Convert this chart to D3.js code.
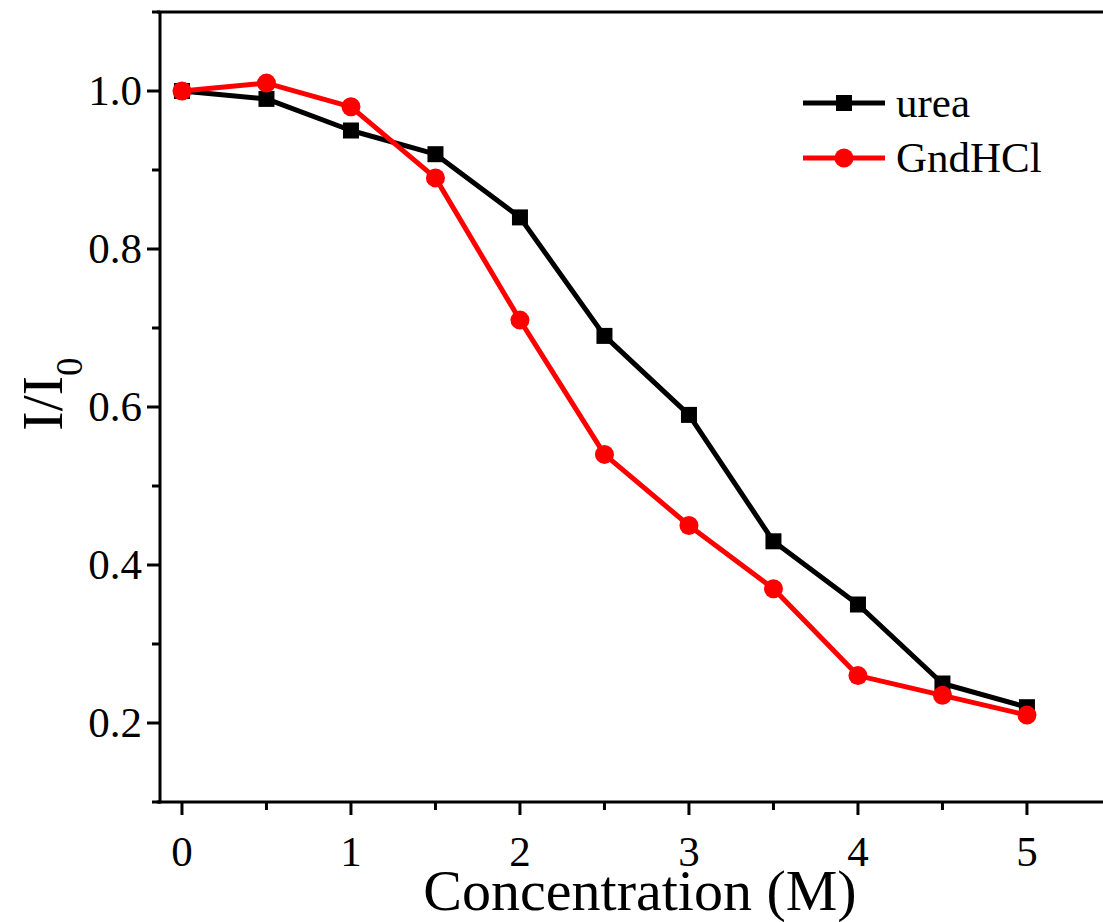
<!DOCTYPE html>
<html><head><meta charset="utf-8">
<script src="https://cdn.jsdelivr.net/npm/d3@7"></script>
<style>body{margin:0;background:#fff}svg{display:block}text{font-family:"Liberation Serif","Times New Roman",serif}</style>
</head><body><svg id="c" width="1103" height="922"></svg>
<script>
const concentrations = [0, 0.5, 1, 1.5, 2, 2.5, 3, 3.5, 4, 4.5, 5];
const ureaValues = [1.0, 0.99, 0.95, 0.92, 0.84, 0.69, 0.59, 0.43, 0.35, 0.25, 0.22];
const gndValues = [1.0, 1.01, 0.98, 0.89, 0.71, 0.54, 0.45, 0.37, 0.26, 0.235, 0.21];
const xTicks = [0, 1, 2, 3, 4, 5];
const yTicks = [0.2, 0.4, 0.6, 0.8, 1.0];
const seriesNames = ["urea", "GndHCl"];
const seriesColors = ["#000000", "#ff0000"];

const svg = d3.select("#c");
const L = 160, R = 1103, T = 12, B = 802;
const x = d3.scaleLinear().domain([-0.13, 5.45]).range([L, R]);
const y = d3.scaleLinear().domain([0.1, 1.1]).range([B, T]);

// top frame line
svg.append("line").attr("x1", L-3).attr("x2", R).attr("y1", T).attr("y2", T).attr("stroke","#000").attr("stroke-width",3);

// x axis
const xMinor = d3.range(0.5, 5.01, 1);
const gx = svg.append("g").attr("transform",`translate(0,${B})`);
gx.append("line").attr("x1", L-3).attr("x2", R).attr("stroke","#000").attr("stroke-width",3);
gx.selectAll(".mj").data(xTicks).join("line").attr("x1",d=>x(d)).attr("x2",d=>x(d)).attr("y1",0).attr("y2",13).attr("stroke","#000").attr("stroke-width",3);
gx.selectAll(".mn").data(xMinor).join("line").attr("x1",d=>x(d)).attr("x2",d=>x(d)).attr("y1",0).attr("y2",8).attr("stroke","#000").attr("stroke-width",3);
gx.selectAll("text").data(xTicks).join("text").attr("x",d=>x(d)).attr("y",64).attr("text-anchor","middle").attr("font-size",43).text(d=>d3.format("d")(d));

// y axis
const yMinor = [0.1,0.3,0.5,0.7,0.9,1.1];
const gy = svg.append("g").attr("transform",`translate(${L},0)`);
gy.append("line").attr("y1", T).attr("y2", B+1.5).attr("stroke","#000").attr("stroke-width",3);
gy.selectAll(".mj").data(yTicks).join("line").attr("y1",d=>y(d)).attr("y2",d=>y(d)).attr("x1",0).attr("x2",-13).attr("stroke","#000").attr("stroke-width",3);
gy.selectAll(".mn").data(yMinor).join("line").attr("y1",d=>y(d)).attr("y2",d=>y(d)).attr("x1",0).attr("x2",-8).attr("stroke","#000").attr("stroke-width",3);
gy.selectAll("text").data(yTicks).join("text").attr("x",-18).attr("y",d=>y(d)+14).attr("text-anchor","end").attr("font-size",43).text(d=>d3.format(".1f")(d));

// titles
svg.append("text").attr("x",640).attr("y",910).attr("text-anchor","middle").attr("font-size",58).text("Concentration (M)");
const yt = svg.append("text").attr("transform",`translate(62,394) rotate(-90)`).attr("text-anchor","middle").attr("font-size",58);
yt.append("tspan").text("I/I");
yt.append("tspan").attr("font-size",37).attr("dy",20).text("0");

// series
const line = d3.line().x(d=>x(d[0])).y(d=>y(d[1]));
const ureaData = concentrations.map((c,i)=>[c, ureaValues[i]]);
const gndData = concentrations.map((c,i)=>[c, gndValues[i]]);

svg.append("path").datum(ureaData).attr("d",line).attr("fill","none").attr("stroke",seriesColors[0]).attr("stroke-width",5).attr("stroke-linejoin","round");
svg.selectAll(".sq").data(ureaData).join("rect").attr("x",d=>x(d[0])-8).attr("y",d=>y(d[1])-8).attr("width",16).attr("height",16).attr("fill",seriesColors[0]);

svg.append("path").datum(gndData).attr("d",line).attr("fill","none").attr("stroke",seriesColors[1]).attr("stroke-width",5).attr("stroke-linejoin","round");
svg.selectAll(".ci").data(gndData).join("circle").attr("cx",d=>x(d[0])).attr("cy",d=>y(d[1])).attr("r",9.5).attr("fill",seriesColors[1]);

// legend
const lg = svg.append("g");
const legY = [103, 158];
seriesNames.forEach((name,i)=>{
  lg.append("line").attr("x1",803).attr("x2",885).attr("y1",legY[i]).attr("y2",legY[i]).attr("stroke",seriesColors[i]).attr("stroke-width",5);
  if(i===0) lg.append("rect").attr("x",844-8).attr("y",legY[i]-8).attr("width",16).attr("height",16).attr("fill",seriesColors[i]);
  else lg.append("circle").attr("cx",844).attr("cy",legY[i]).attr("r",9.5).attr("fill",seriesColors[i]);
  lg.append("text").attr("x",896).attr("y",legY[i]+14).attr("font-size",43).text(name);
});
</script></body></html>
